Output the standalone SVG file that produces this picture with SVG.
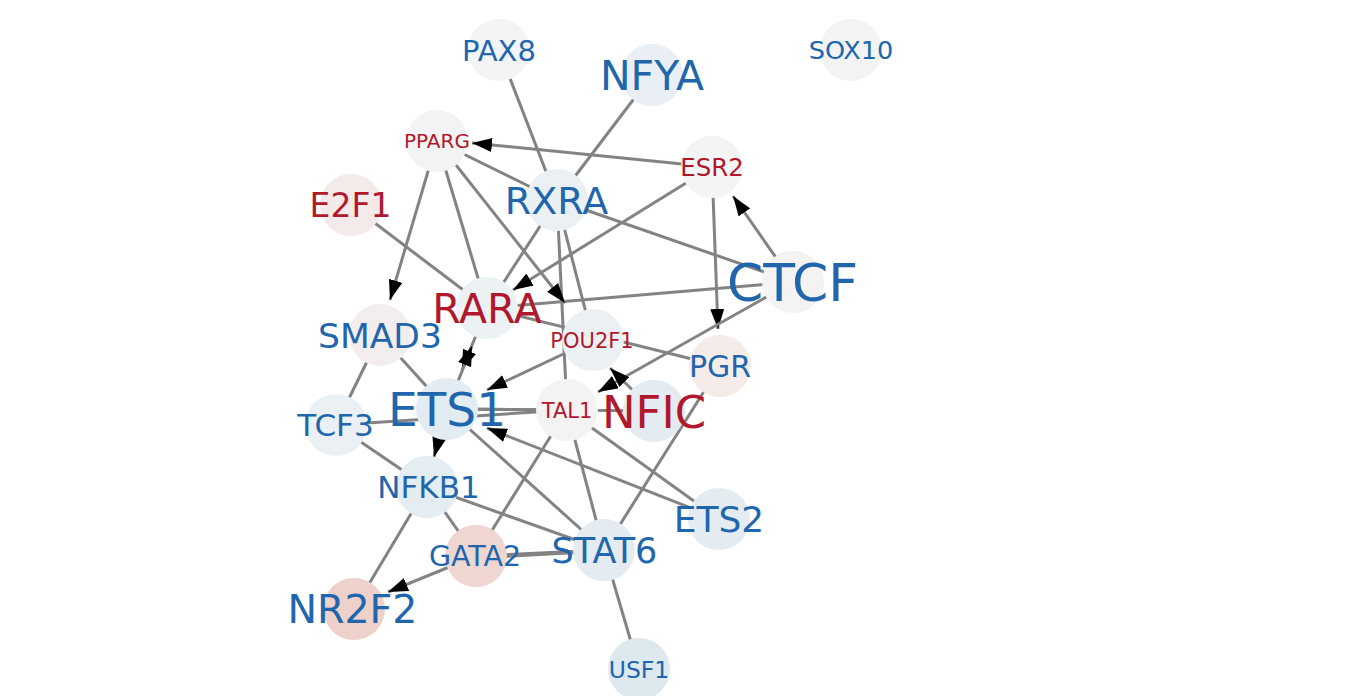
<svg xmlns="http://www.w3.org/2000/svg" width="1369" height="696" viewBox="0 0 1369 696">
<style>
.e{stroke:#838383;stroke-width:3;fill:none}
.a{marker-end:url(#ah)}
.t{font-family:"DejaVu Sans",sans-serif;text-anchor:middle}
.b{fill:#2166ac}
.r{fill:#b2182b}
</style>
<defs>
<marker id="ah" markerUnits="userSpaceOnUse" markerWidth="20" markerHeight="14" refX="20" refY="7" orient="auto">
<path d="M0,0 L20,7 L0,14 z" fill="#000"/>
</marker>
</defs>
<rect width="1369" height="696" fill="#fff"/>
<g id="edges">
<line class="e" x1="499" y1="50" x2="557" y2="200"/>
<line class="e" x1="652" y1="75" x2="557" y2="200"/>
<line class="e" x1="437" y1="141" x2="557" y2="200"/>
<line class="e" x1="437" y1="141" x2="487" y2="308"/>
<line class="e" x1="351" y1="205" x2="487" y2="308"/>
<line class="e" x1="557" y1="200" x2="793" y2="282"/>
<line class="e" x1="557" y1="200" x2="487" y2="308"/>
<line class="e" x1="557" y1="200" x2="567" y2="410"/>
<line class="e" x1="557" y1="200" x2="593" y2="340"/>
<line class="e" x1="793" y1="282" x2="487" y2="308"/>
<line class="e" x1="487" y1="308" x2="720" y2="366"/>
<line class="e" x1="380" y1="335" x2="447" y2="409"/>
<line class="e" x1="380" y1="335" x2="336" y2="425"/>
<line class="e" x1="336" y1="425" x2="567" y2="410"/>
<line class="e" x1="336" y1="425" x2="427" y2="487"/>
<line class="e" x1="447" y1="409" x2="567" y2="410"/>
<line class="e" x1="447" y1="409" x2="654" y2="411"/>
<line class="e" x1="567" y1="410" x2="719" y2="519"/>
<line class="e" x1="567" y1="410" x2="604" y2="550"/>
<line class="e" x1="567" y1="410" x2="476" y2="556"/>
<line class="e" x1="720" y1="366" x2="604" y2="550"/>
<line class="e" x1="447" y1="409" x2="604" y2="550"/>
<line class="e" x1="427" y1="487" x2="604" y2="550"/>
<line class="e" x1="427" y1="487" x2="476" y2="556"/>
<line class="e" x1="427" y1="487" x2="354" y2="609"/>
<line class="e" x1="476" y1="556" x2="604" y2="550"/>
<line class="e" x1="476" y1="558" x2="604" y2="551"/>
<line class="e" x1="604" y1="550" x2="639" y2="669"/>
<line class="e a" x1="712" y1="167" x2="472" y2="143"/>
<line class="e a" x1="437" y1="141" x2="390" y2="300"/>
<line class="e a" x1="437" y1="141" x2="565" y2="303"/>
<line class="e a" x1="712" y1="167" x2="513" y2="290"/>
<line class="e a" x1="712" y1="167" x2="718" y2="329"/>
<line class="e a" x1="793" y1="282" x2="733" y2="196"/>
<line class="e a" x1="793" y1="282" x2="598" y2="392"/>
<line class="e a" x1="487" y1="308" x2="462" y2="370"/>
<line class="e a" x1="447" y1="409" x2="472" y2="346"/>
<line class="e a" x1="593" y1="340" x2="487" y2="390"/>
<line class="e a" x1="654" y1="411" x2="610" y2="368"/>
<line class="e a" x1="719" y1="519" x2="487" y2="428"/>
<line class="e a" x1="447" y1="409" x2="434" y2="457"/>
<line class="e a" x1="476" y1="556" x2="388" y2="592"/>
</g>
<g id="PAX8"><circle cx="499" cy="50" r="31" fill="#f2f4f5"/><text class="t b" x="499" y="60.5" font-size="29">PAX8</text></g>
<g id="NFYA"><circle cx="652" cy="75" r="31" fill="#e9eff4"/><text class="t b" x="652" y="90" font-size="41">NFYA</text></g>
<g id="SOX10"><circle cx="851" cy="50" r="31" fill="#f2f4f4"/><text class="t b" x="851" y="59.3" font-size="25.5">SOX10</text></g>
<g id="PPARG"><circle cx="437" cy="141" r="31" fill="#f1f3f4"/><text class="t r" x="437" y="148.3" font-size="20">PPARG</text></g>
<g id="ESR2"><circle cx="712" cy="167" r="31" fill="#f3f5f5"/><text class="t r" x="712" y="176" font-size="24.5">ESR2</text></g>
<g id="E2F1"><circle cx="351" cy="205" r="31" fill="#f4eaea"/><text class="t r" x="350.5" y="217" font-size="33">E2F1</text></g>
<g id="RXRA"><circle cx="557" cy="200" r="31" fill="#eaf0f4"/><text class="t b" x="556.5" y="214" font-size="38">RXRA</text></g>
<g id="CTCF"><circle cx="793" cy="282" r="31" fill="#f4f3f2"/><text class="t b" x="792.5" y="301" font-size="52">CTCF</text></g>
<g id="RARA"><circle cx="487" cy="308" r="31" fill="#ecf1f4"/><text class="t r" x="487" y="323" font-size="41">RARA</text></g>
<g id="SMAD3"><circle cx="380" cy="335" r="31" fill="#f4eded"/><text class="t b" x="380" y="347.5" font-size="34.5">SMAD3</text></g>
<g id="POU2F1"><circle cx="593" cy="340" r="31" fill="#ebf0f3"/><text class="t r" x="592" y="347.6" font-size="21">POU2F1</text></g>
<g id="PGR"><circle cx="720" cy="366" r="31" fill="#f5ecea"/><text class="t b" x="720" y="377" font-size="30">PGR</text></g>
<g id="ETS1"><circle cx="447" cy="409" r="31" fill="#e3ecf2"/><text class="t b" x="447" y="426" font-size="47">ETS1</text></g>
<g id="TAL1"><circle cx="567" cy="410" r="31" fill="#f4f2f3"/><text class="t r" x="567" y="417.6" font-size="21">TAL1</text></g>
<g id="NFIC"><circle cx="654" cy="411" r="31" fill="#e4ecf1"/><text class="t r" x="654" y="427.5" font-size="45">NFIC</text></g>
<g id="TCF3"><circle cx="336" cy="425" r="31" fill="#eaf0f4"/><text class="t b" x="335.5" y="436.3" font-size="31">TCF3</text></g>
<g id="NFKB1"><circle cx="427" cy="487" r="31" fill="#e4edf2"/><text class="t b" x="428.5" y="498.3" font-size="31">NFKB1</text></g>
<g id="ETS2"><circle cx="719" cy="519" r="31" fill="#e4ecf1"/><text class="t b" x="719" y="532" font-size="36">ETS2</text></g>
<g id="GATA2"><circle cx="476" cy="556" r="31" fill="#efd6d1"/><text class="t b" x="475" y="566.4" font-size="28.5">GATA2</text></g>
<g id="STAT6"><circle cx="604" cy="550" r="31" fill="#e4ecf1"/><text class="t b" x="604.5" y="562.8" font-size="35">STAT6</text></g>
<g id="NR2F2"><circle cx="354" cy="609" r="31" fill="#edd1ca"/><text class="t b" x="352.5" y="623.4" font-size="39.5">NR2F2</text></g>
<g id="USF1"><circle cx="639" cy="669" r="31" fill="#dee8ef"/><text class="t b" x="639" y="677.6" font-size="23.5">USF1</text></g>
</svg>
